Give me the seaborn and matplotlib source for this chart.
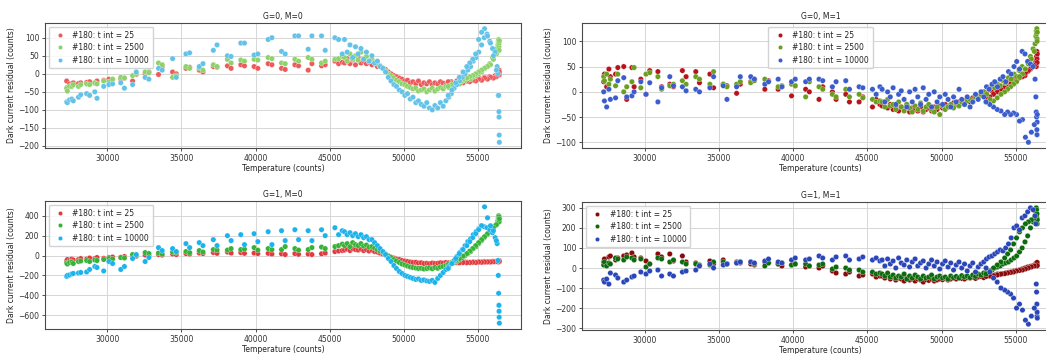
import matplotlib
matplotlib.use("Agg")
import matplotlib.pyplot as plt
import pandas as pd
import seaborn as sns

# Sensor temperature for every sample (sparse warm-up, dense sweep, saturation, return sweep)
temperature = [
    27250, 27300, 27450, 27600, 27700, 28050, 28200, 28600, 28800, 29150,
    29300, 29750, 30100, 30350, 30900, 31150, 31700, 31950, 32550, 32800,
    33450, 33700, 34400, 34650, 35300, 35550, 36200, 36450, 37150, 37400,
    38100, 38350, 39000, 39250, 39900, 40150, 40850, 41100, 41750, 42000,
    42650, 42900, 43550, 43800, 44450, 44700, 45350, 45600, 45850,
    46000, 46180, 46370, 46550, 46740, 46920, 47110, 47290, 47480, 47660,
    47850, 48030, 48220, 48400, 48590, 48770, 48960, 49140, 49330, 49510,
    49700, 49880, 50070, 50250, 50440, 50620, 50810, 50990, 51180, 51360,
    51550, 51730, 51920, 52100, 52290, 52470, 52660, 52840, 53030, 53210,
    53400, 53580, 53770, 53950, 54140, 54320, 54510, 54690, 54880, 55060,
    55250, 55430, 55620, 55800, 55990, 56170,
    56300, 56350, 56380, 56400, 56420, 56430, 56440, 56450,
    56250, 56050, 55850, 55650, 55450, 55250, 55050, 54850, 54650, 54450,
    54250, 54000, 53750, 53500, 53250, 53000,
]

series_labels = ["#180: t int = 25", "#180: t int = 2500", "#180: t int = 10000"]
panel_titles = ["G=0, M=0", "G=0, M=1", "G=1, M=0", "G=1, M=1"]

# ---- G=0, M=0 ----
g0m0_t25 = [
    -20, -38, -28, -30, -25, -27, -25, -24, -22, -26, -20, -18, -15, -16, -15, -12, -20, -2, 0, 5,
    -2, 20, 5, 0, 15, 18, 10, 5, 20, 18, 22, 15, 25, 22, 20, 15, 28, 25, 15, 12,
    25, 22, 10, 28, 22, 25, 35, 28, 32,
    30, 42, 28, 38, 25, 45, 30, 35, 28, 32, 25, 30, 20, 22, 15, 12, 5, 0, -5, -8,
    -12, -15, -20, -18, -25, -22, -28, -20, -30, -25, -28, -22, -30, -25, -28, -22, -26, -30, -24, -22,
    -25, -20, -22, -18, -20, -15, -18, -14, -16, -12, -15, -10, -12, -8, -10, -5,
    -5, 0, 5, 8, 2, 10, -3, 5,
    -8, -12, -10, -15, -12, -18, -15, -20, -18, -22, -20, -25, -22, -28, -25, -22,
]
g0m0_t2500 = [
    -40, -48, -35, -35, -30, -35, -30, -28, -30, -25, -28, -20, -22, -15, -10, -12, -5, 0, 5, 3,
    30, 25, -10, -5, 20, 15, 15, 10, 25, 20, 40, 30, 38, 35, 40, 38, 45, 42, 30, 28,
    40, 35, 45, 40, 30, 35, 40, 42, 48,
    45, 35, 55, 40, 50, 38, 60, 42, 48, 35, 40, 32, 28, 20, 15, 8, 0, -5, -12, -18,
    -22, -28, -30, -35, -38, -42, -40, -48, -45, -42, -50, -45, -40, -48, -42, -38, -42, -35, -38, -30,
    -32, -25, -28, -20, -18, -12, -15, -8, -5, 0, 5, 15, 20, 28, 45, 60,
    70, 80, 90, 95, 75, 85, 65, 92,
    55, 40, 25, 20, 15, 10, 5, 0, -5, -8, -12, -15, -20, -25, -30, -35,
]
g0m0_t10000 = [
    -78, -80, -72, -70, -75, -65, -58, -55, -60, -50, -68, -35, -30, -28, -25, -40, -30, 5, -10, -15,
    15, 10, 42, -10, 55, 58, 20, 28, 65, 80, 50, 48, 85, 85, 52, 55, 95, 100, 62, 55,
    105, 105, 68, 105, 105, 65, 100, 95, 55,
    95, 60, 80, 45, 75, 55, 70, 40, 60, 35, 50, 30, 35, 20, 15, 5, -10, -20, -30, -35,
    -45, -50, -60, -55, -70, -65, -80, -75, -85, -90, -80, -95, -100, -88, -95, -80, -90, -75, -65, -55,
    -40, -30, -20, -10, 0, 10, 20, 35, 45, 60, 80, 100, 110, 90, 70, 60,
    20, 0, -60, -60, -105, -120, -170, -190,
    10, 50, 85, 105, 125, 115, 95, 55, 40, 30, 20, 5, -10, -25, -45, -60,
]

# ---- G=0, M=1 ----
g0m1_t25 = [
    20, 35, 10, 45, 30, 35, 48, 50, -15, 48, 10, 25, -5, 42, 40, 10, 15, 10, 42, 30,
    40, 18, 35, 8, 15, 12, -3, 15, 20, 25, 5, 22, 5, 10, -8, 12, 5, 0, -15, 10,
    0, -15, -5, -20, -20, -10, -30, -15, -25,
    -28, -20, -32, -25, -35, -28, -38, -30, -35, -25, -40, -32, -35, -38, -30, -40, -35, -32, -38, -30,
    -35, -28, -32, -25, -30, -28, -22, -25, -20, -22, -18, -15, -20, -12, -8, -10, -5, 0, -2, 5,
    2, 8, 5, 12, 10, 15, 20, 18, 25, 22, 30, 35, 32, 40, 45, 50,
    55, 60, 50, 70, 80, 65, 58, 75,
    52, 48, 42, 38, 30, 28, 22, 18, 15, 10, 8, 5, 0, -5, -10, -12,
]
g0m1_t2500 = [
    30, 22, 35, 15, 25, 12, 35, 0, 10, 20, 48, 8, 35, 38, 30, 5, 12, 15, 22, 15,
    30, 25, 15, 40, 15, 10, 15, 20, 18, 22, 25, 20, 10, 12, 15, 12, -10, 20, 10, 5,
    -5, -10, 5, -10, -5, -12, -15, -20, -18,
    -20, -30, -15, -28, -25, -35, -20, -30, -38, -25, -32, -40, -28, -35, -22, -38, -30, -25, -35, -40,
    -30, -45, -28, -35, -30, -25, -32, -22, -28, -20, -25, -18, -15, -20, -10, -12, -5, 0, -5, 5,
    10, 8, 15, 12, 22, 18, 28, 25, 35, 30, 42, 50, 45, 60, 70, 85,
    95, 110, 120, 115, 125, 105, 100, 118,
    80, 65, 55, 45, 35, 30, 20, 15, 10, 5, 0, -5, -12, -18, -15, -20,
]
g0m1_t10000 = [
    0, -18, -30, 5, -15, -12, 22, 28, -10, -8, 0, 20, -5, 18, -20, 8, 30, 12, 10, 2,
    5, 0, 8, 30, 12, -15, 10, 30, 30, 25, 15, 20, 25, 10, 20, 25, 20, 25, 25, 22,
    10, 20, 22, 5, 10, 8, 5, -5, 10,
    5, -20, 0, -10, 8, -25, -5, 2, -15, -30, 0, -20, 5, -10, -25, 8, -15, -5, -30, 0,
    -20, -10, -25, -5, -15, -30, -10, -20, 5, -15, -25, -10, -30, -20, -5, -15, 0, -10, 10, 5,
    15, 20, 10, 25, 30, 20, 40, 35, 50, 60, 45, 80, 75, 60, 55, 50,
    25, -10, -40, -50, -75, -85, -60, -45,
    -65, -80, -100, -90, -55, -58, -45, -42, -45, -40, -45, -38, -35, -30, -25, -20,
]

# ---- G=1, M=0 ----
g1m0_t25 = [
    -55, -40, -50, -35, -45, -40, -30, -35, -25, -30, -20, -28, -20, -15, -18, -10, -5, -8, 5, 0,
    10, 5, 15, 10, 20, 15, 25, 20, 30, 22, 35, 25, 30, 22, 25, 20, 22, 15, 18, 10,
    20, 12, 15, 10, 18, 25, 40, 45, 50,
    55, 65, 50, 70, 60, 55, 65, 50, 60, 45, 55, 40, 35, 25, 15, 5, -5, -15, -25, -35,
    -40, -50, -55, -60, -65, -70, -68, -75, -72, -80, -78, -82, -75, -80, -78, -72, -75, -70, -72, -68,
    -70, -72, -68, -70, -65, -68, -70, -65, -68, -62, -65, -60, -65, -62, -58, -60,
    -55, -60, -50, -65, -55, -60, -52, -58,
    -60, -62, -65, -63, -65, -68, -66, -70, -68, -70, -72, -70, -72, -70, -72, -75,
]
g1m0_t2500 = [
    -75, -85, -70, -65, -80, -60, -55, -50, -60, -45, -50, -40, -30, -35, -20, -25, 10, 0, 30, 20,
    25, 15, 35, 30, 40, 30, 50, 35, 60, 55, 55, 70, 60, 65, 80, 55, 70, 60, 60, 90,
    70, 55, 60, 80, 85, 70, 90, 100, 115,
    100, 120, 90, 130, 110, 100, 120, 95, 105, 85, 90, 75, 60, 45, 30, 15, -5, -20, -40, -55,
    -70, -85, -95, -105, -115, -120, -125, -130, -128, -135, -130, -125, -132, -120, -128, -115, -110, -100, -95, -80,
    -70, -55, -40, -20, 0, 20, 40, 70, 90, 120, 150, 180, 210, 240, 270, 300,
    320, 350, 380, 400, 360, 390, 340, 370,
    310, 280, 250, 220, 190, 160, 130, 100, 70, 45, 20, -5, -30, -50, -70, -90,
]
g1m0_t10000 = [
    -210, -200, -195, -185, -180, -175, -170, -165, -140, -110, -120, -155, -60, -80, -140, -110, -30, 10, -60, -20,
    80, 50, 70, 40, 120, 80, 130, 100, 160, 100, 200, 150, 210, 110, 220, 140, 240, 110, 250, 150,
    260, 160, 250, 150, 260, 200, 280, 210, 250,
    240, 210, 230, 200, 220, 190, 210, 180, 190, 160, 160, 130, 100, 70, 40, 10, -30, -60, -100, -130,
    -160, -180, -200, -210, -220, -230, -240, -235, -250, -245, -255, -260, -250, -270, -230, -200, -170, -140, -110, -80,
    -50, -10, 30, 60, 100, 140, 170, 210, 240, 270, 300, 290, 280, 260, 230, 180,
    120, -50, -200, -380, -500, -560, -620, -680,
    150, 250, 300, 380, 490, 300, 260, 220, 180, 140, 100, 60, 20, -30, -80, -130,
]

# ---- G=1, M=1 ----
g1m1_t25 = [
    30, 45, 20, 55, 60, 40, 50, 60, 65, 75, 55, 50, 35, 20, 70, 55, 70, 35, 60, 30,
    25, 10, 35, 20, 40, 20, 30, 25, 20, 15, 30, 25, 20, 10, 15, 20, 5, 10, 0, 10,
    -15, -25, -30, -20, -40, -35, -30, -45, -40,
    -40, -50, -35, -55, -45, -60, -50, -55, -65, -50, -60, -55, -65, -55, -60, -70, -58, -62, -55, -65,
    -60, -55, -58, -52, -60, -55, -50, -55, -48, -52, -55, -48, -50, -45, -52, -45, -42, -48, -40, -38,
    -42, -35, -30, -32, -28, -25, -22, -20, -15, -12, -10, -5, 0, 5, 8, 12,
    15, 20, 25, 10, 18, 22, 28, 12,
    10, 5, 0, -5, -10, -12, -15, -20, -22, -25, -28, -30, -35, -38, -40, -42,
]
g1m1_t2500 = [
    15, 30, 10, 25, 20, 50, 45, 40, 55, 50, 40, 45, 5, 20, 50, 45, 30, 40, 30, 20,
    20, 15, 15, 30, 30, 20, 25, 30, 30, 20, 10, 25, 20, 25, 15, 20, 20, 10, 15, 20,
    -5, 5, 0, -10, -10, -20, -20, -30, -25,
    -30, -40, -25, -45, -35, -50, -40, -45, -30, -55, -40, -50, -35, -45, -55, -40, -50, -45, -35, -55,
    -45, -40, -50, -45, -55, -40, -48, -42, -50, -38, -45, -40, -48, -35, -42, -30, -35, -25, -20, -15,
    -10, 0, 5, 10, 20, 25, 30, 40, 50, 60, 80, 100, 130, 160, 200, 230,
    260, 280, 300, 290, 250, 270, 220, 240,
    250, 240, 230, 220, 200, 180, 150, 120, 90, 70, 50, 30, 15, 0, -15, -30,
]
g1m1_t10000 = [
    -60, -70, -55, -80, -25, -35, -50, -70, -60, -45, -40, -20, -30, -15, -10, -40, -30, -40, -20, -15,
    -10, 10, 20, 0, 15, 20, 25, 30, 30, 25, 35, 45, 30, 25, 40, 50, 40, 45, 60, 50,
    40, 55, 60, 40, 45, 55, 40, 50, 35,
    40, 10, 45, 20, 35, 0, 50, 25, 15, 40, 5, 30, 45, 10, 25, 35, 0, 20, 40, 10,
    30, -5, 20, 35, 5, 25, -10, 15, 30, 0, 20, -15, 10, 25, -20, 5, 20, 30, 45, 55,
    60, 70, 80, 90, 85, 100, 120, 150, 200, 210, 190, 250, 260, 280, 300, 290,
    260, 220, -80, -120, -180, -240, -220, -250,
    -200, -240, -280, -260, -210, -180, -200, -150, -130, -120, -110, -100, -70, -50, -20, 0,
]

panel_series = [
    [g0m0_t25, g0m0_t2500, g0m0_t10000],
    [g0m1_t25, g0m1_t2500, g0m1_t10000],
    [g1m0_t25, g1m0_t2500, g1m0_t10000],
    [g1m1_t25, g1m1_t2500, g1m1_t10000],
]
panel_colors = [
    ["#ee5a5c", "#8ed26a", "#62c2e8"],
    ["#b8121b", "#6a9e1e", "#3a5ccc"],
    ["#e23a3e", "#36b236", "#1cb2ec"],
    ["#8a0a0a", "#0d6a0d", "#2a46b8"],
]
legend_locs = ["upper left", "upper center", "upper left", "upper left"]

# axes boxes in pixels: left, top, right, bottom (figure is 1046 x 354)
W, H = 1046, 354
boxes = [
    (45, 23, 521, 148),
    (582, 23, 1059, 148),
    (45, 201, 521, 329),
    (582, 202, 1059, 330),
]

sns.set_theme(style="whitegrid")
plt.rcParams.update({
    "font.family": ["DejaVu Sans"],
    "font.size": 5.5,
    "axes.edgecolor": "#4a4a4a",
    "axes.linewidth": 0.8,
    "axes.labelcolor": "#222222",
    "text.color": "#222222",
    "grid.color": "#d6d6d6",
    "grid.linewidth": 0.7,
    "xtick.bottom": True,
    "ytick.left": True,
    "xtick.major.size": 2.5,
    "ytick.major.size": 2.5,
    "xtick.major.width": 0.6,
    "ytick.major.width": 0.6,
    "xtick.color": "#333333",
    "ytick.color": "#333333",
    "xtick.labelsize": 5.5,
    "ytick.labelsize": 5.5,
    "xtick.major.pad": 1.5,
    "ytick.major.pad": 1.5,
})

fig = plt.figure(figsize=(W / 100, H / 100), dpi=100)
fig.patch.set_facecolor("white")

for title, series, colors, loc, (l, t, r, b) in zip(
        panel_titles, panel_series, panel_colors, legend_locs, boxes):
    ax = fig.add_axes([l / W, 1 - b / H, (r - l) / W, (b - t) / H])
    frames = []
    for label, values in zip(series_labels, series):
        frames.append(pd.DataFrame({
            "Temperature": temperature,
            "Residual": values,
            "Series": label,
        }))
    df = pd.concat(frames, ignore_index=True)
    sns.scatterplot(
        data=df, x="Temperature", y="Residual", hue="Series",
        hue_order=series_labels, palette=colors, s=15,
        edgecolor="white", linewidth=0.2, ax=ax, legend=True,
    )
    handles, labels = ax.get_legend_handles_labels()
    ax.legend(handles, labels, loc=loc, fontsize=5.5, frameon=True,
              edgecolor="#cccccc", facecolor="white", framealpha=0.85,
              markerscale=0.8, handletextpad=0.6, borderpad=0.5,
              labelspacing=0.45)
    ax.set_title(title, fontsize=5.5, pad=3)
    ax.set_xlabel("Temperature (counts)", fontsize=5.5, labelpad=1)
    ax.set_ylabel("Dark current residual (counts)", fontsize=5.5, labelpad=2)
    ax.set_xticks([30000, 35000, 40000, 45000, 50000, 55000])
    ax.grid(True)
    for spine in ax.spines.values():
        spine.set_visible(True)

fig.savefig("out.png", dpi=100, facecolor="white")
